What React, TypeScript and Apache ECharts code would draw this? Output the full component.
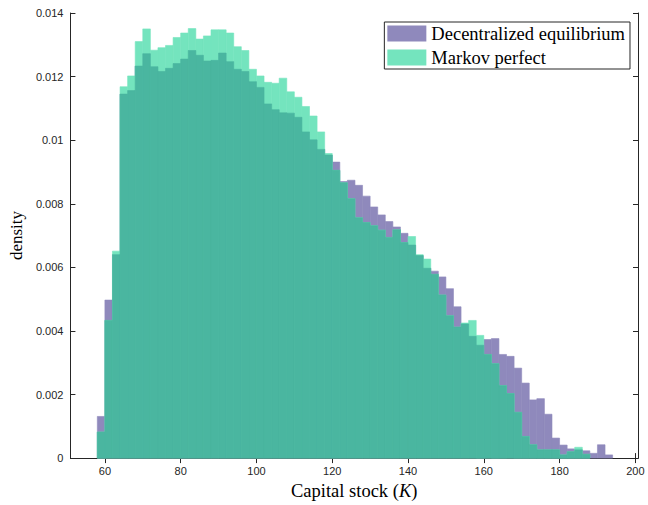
import React, { useEffect, useRef } from "react";
import * as echarts from "echarts";

const binStart = 58;
const binWidth = 2;

const decentralized = [
  0.00131, 0.00497, 0.0064, 0.01145, 0.01156, 0.01233, 0.01272, 0.01231, 0.01216, 0.01226,
  0.01241, 0.01255, 0.01282, 0.01267, 0.01249, 0.01251, 0.01274, 0.01247, 0.01223, 0.01216,
  0.01184, 0.01166, 0.01114, 0.01096, 0.01086, 0.01085, 0.01072, 0.01026, 0.01001, 0.00971,
  0.00953, 0.00931, 0.0087, 0.00874, 0.00858, 0.00824, 0.0079, 0.00765, 0.00744, 0.00727,
  0.00707, 0.0067, 0.00637, 0.00597, 0.00588, 0.0057, 0.00533, 0.00476, 0.00422, 0.00383,
  0.00355, 0.00373, 0.00376, 0.00326, 0.0032, 0.00283, 0.00236, 0.00183, 0.00187, 0.00138,
  0.00063, 0.00041, 0.00029, 0.00026, 0.00023, 0.00015, 0.00042, 0.0001,
];

const markov = [
  0.00082, 0.00433, 0.00651, 0.01168, 0.01202, 0.0131, 0.0135, 0.01283, 0.01291, 0.01298,
  0.01323, 0.01337, 0.01351, 0.01318, 0.01328, 0.01347, 0.01347, 0.01337, 0.01294, 0.01282,
  0.01223, 0.01202, 0.01182, 0.01179, 0.01195, 0.01152, 0.01135, 0.01106, 0.01076, 0.01026,
  0.00958, 0.00905, 0.00866, 0.00816, 0.00756, 0.00741, 0.00731, 0.00717, 0.00694, 0.00718,
  0.00678, 0.00697, 0.0064, 0.00626, 0.00578, 0.00513, 0.00448, 0.00412, 0.00425, 0.00433,
  0.00386, 0.00326, 0.00297, 0.00228, 0.00203, 0.00144, 0.00068, 0.00042, 0.00026, 0.00026,
  0.00026, 0.0001, 0.0002, 0.00034, 0.00012, 0, 0, 0,
];

const xTicks = [60, 80, 100, 120, 140, 160, 180, 200];
const seriesNames = ["Decentralized equilibrium", "Markov perfect"];

const PURPLE = "#8F89BC";
const GREEN = "#74E4BE";
const TEAL = "#4AB6A0";
const AXIS = "#262626";
const SERIF = "Liberation Serif, serif";

function toData(vals: number[]) {
  return vals.map((v, i) => [binStart + i * binWidth, v]);
}

function histSeries(name: string, vals: number[], color: string, z: number) {
  return {
    type: "custom",
    name,
    z,
    data: toData(vals),
    encode: { x: 0, y: 1 },
    itemStyle: { color },
    renderItem: (params: any, api: any) => {
      const x0 = api.value(0);
      const y = api.value(1);
      if (!y) return null;
      const p0 = api.coord([x0, 0]);
      const p1 = api.coord([x0 + binWidth, y]);
      return {
        type: "rect",
        shape: { x: p0[0], y: p1[1], width: p1[0] - p0[0], height: p0[1] - p1[1] },
        style: { fill: color, stroke: color, lineWidth: 0.6 },
      };
    },
  };
}

export default function App() {
  const ref = useRef<HTMLDivElement>(null);
  useEffect(() => {
    if (!ref.current) return;
    const chart = echarts.init(ref.current, null, { renderer: "svg" });
    const overlap = decentralized.map((v, i) => Math.min(v, markov[i]));
    const xMin = 50.9;
    const xMax = 200.7;
    const tickFont = { fontFamily: "Liberation Sans, Arial, sans-serif", fontSize: 11, color: AXIS };
    chart.setOption({
      animation: false,
      backgroundColor: "#ffffff",
      grid: { left: 69, right: 10, top: 13, bottom: 42, containLabel: false },
      legend: {
        right: 18,
        top: 22,
        orient: "vertical",
        backgroundColor: "#ffffff",
        borderColor: AXIS,
        borderWidth: 1,
        borderRadius: 0,
        padding: [2, 5, 2, 3],
        itemGap: 5,
        itemWidth: 39,
        itemHeight: 16,
        textStyle: { fontFamily: SERIF, fontSize: 18.5, lineHeight: 16, color: "#000" },
        data: [
          { name: seriesNames[0], icon: "rect", itemStyle: { color: PURPLE } },
          { name: seriesNames[1], icon: "rect", itemStyle: { color: GREEN } },
        ],
      },
      xAxis: [
        {
          type: "value",
          min: xMin,
          max: xMax,
          position: "bottom",
          splitLine: { show: false },
          axisLine: { show: true, lineStyle: { color: AXIS, width: 1 } },
          axisTick: { show: true, inside: true, length: 5, customValues: xTicks, lineStyle: { color: AXIS } },
          axisLabel: { show: true, margin: 7, customValues: xTicks, ...tickFont },
          name: "Capital stock ({i|K})",
          nameLocation: "middle",
          nameGap: 22,
          nameTextStyle: {
            fontFamily: SERIF,
            fontSize: 18.5,
            color: "#000",
            rich: { i: { fontStyle: "italic", fontFamily: SERIF, fontSize: 18.5, color: "#000" } },
          },
        },
        {
          type: "value",
          min: xMin,
          max: xMax,
          position: "top",
          splitLine: { show: false },
          axisLine: { show: true, lineStyle: { color: AXIS, width: 1 } },
          axisTick: { show: true, inside: true, length: 5, customValues: xTicks, lineStyle: { color: AXIS } },
          axisLabel: { show: false },
        },
      ],
      yAxis: [
        {
          type: "value",
          min: 0,
          max: 0.014,
          interval: 0.002,
          position: "left",
          splitLine: { show: false },
          axisLine: { show: true, lineStyle: { color: AXIS, width: 1 } },
          axisTick: { show: true, inside: true, length: 5, lineStyle: { color: AXIS } },
          axisLabel: { show: true, margin: 7, formatter: (v: number) => String(+v.toFixed(3)), ...tickFont },
          name: "density",
          nameLocation: "middle",
          nameGap: 43,
          nameRotate: 90,
          nameTextStyle: { fontFamily: SERIF, fontSize: 17, color: "#000" },
        },
        {
          type: "value",
          min: 0,
          max: 0.014,
          interval: 0.002,
          position: "right",
          splitLine: { show: false },
          axisLine: { show: true, lineStyle: { color: AXIS, width: 1 } },
          axisTick: { show: true, inside: true, length: 5, lineStyle: { color: AXIS } },
          axisLabel: { show: false },
        },
      ],
      series: [
        histSeries(seriesNames[0], decentralized, PURPLE, 1),
        histSeries(seriesNames[1], markov, GREEN, 2),
        histSeries("overlap", overlap, TEAL, 3),
      ],
    });
    return () => chart.dispose();
  }, []);
  return (
    <div
      ref={ref}
      style={{ position: "fixed", left: 0, top: 0, width: 648, height: 505 }}
    />
  );
}
